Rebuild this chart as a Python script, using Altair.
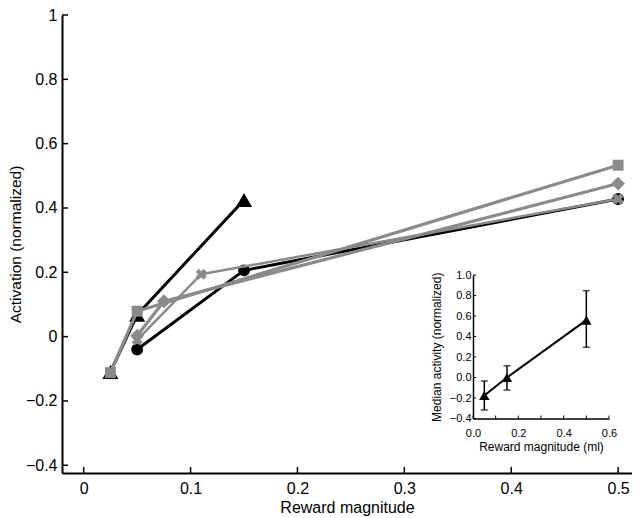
import altair as alt
import pandas as pd

# ---------------- main panel data ----------------
tri_x = [0.025, 0.05, 0.15]
tri_y = [-0.11, 0.068, 0.425]
circle_x = [0.05, 0.15, 0.5]
circle_y = [-0.04, 0.206, 0.428]
square_x = [0.025, 0.05, 0.5]
square_y = [-0.112, 0.079, 0.533]
diamond_x = [0.05, 0.075, 0.5]
diamond_y = [0.003, 0.11, 0.476]
xmark_x = [0.05, 0.11, 0.5]
xmark_y = [-0.01, 0.194, 0.428]

main_x_ticks = [0, 0.1, 0.2, 0.3, 0.4, 0.5]
main_y_ticks = [-0.4, -0.2, 0, 0.2, 0.4, 0.6, 0.8, 1]

# ---------------- inset data ----------------
inset_x = [0.05, 0.15, 0.5]
inset_median = [-0.175, 0.0, 0.56]
inset_low = [-0.317, -0.122, 0.295]
inset_high = [-0.034, 0.115, 0.847]
inset_x_ticks = [0, 0.1, 0.2, 0.3, 0.4, 0.5, 0.6]
inset_x_labels = [0, 0.2, 0.4, 0.6]
inset_y_ticks = [-0.4, -0.2, 0, 0.2, 0.4, 0.6, 0.8, 1.0]

BLACK = "#000000"
GRAY = "#8a8a8a"
FONT = "Liberation Sans"
TOP = 7
W, H = 570, 458

xs_main = alt.Scale(domain=[-0.0203, 0.513], nice=False, zero=False)
ys_main = alt.Scale(domain=[-0.424, 1.0], nice=False, zero=False)

common_axis = dict(grid=False, ticks=False, tickSize=0, domainColor=BLACK,
                   labelColor=BLACK, titleColor=BLACK, titleFontWeight="normal",
                   labelFont=FONT, titleFont=FONT, labelFlush=False,
                   labelOverlap=False)

x_axis_main = alt.Axis(values=main_x_ticks, format="~g", title="Reward magnitude",
                       labelPadding=7, titlePadding=3, labelFontSize=16,
                       titleFontSize=16, domainWidth=2, **common_axis)
y_axis_main = alt.Axis(values=main_y_ticks, format="~g", title="Activation (normalized)",
                       labelPadding=5, titlePadding=2, labelFontSize=16,
                       titleFontSize=15.5, domainWidth=2, **common_axis)


def series(xv, yv, color, shape, size, width, angle=0):
    df = pd.DataFrame({"x": xv, "y": yv})
    base = alt.Chart(df).encode(
        x=alt.X("x:Q", scale=xs_main, axis=x_axis_main),
        y=alt.Y("y:Q", scale=ys_main, axis=y_axis_main),
    )
    line = base.mark_line(color=color, strokeWidth=width, strokeJoin="round")
    pt = base.mark_point(shape=shape, filled=True, size=size, color=color,
                         opacity=1, angle=angle)
    return [line, pt]


layers = []
layers += series(tri_x, tri_y, BLACK, "triangle-up", 260, 3)
layers += series(circle_x, circle_y, BLACK, "circle", 140, 3)
layers += series(square_x, square_y, GRAY, "square", 120, 3.2)
layers += series(diamond_x, diamond_y, GRAY, "diamond", 190, 3.2)
layers += series(xmark_x, xmark_y, GRAY, "cross", 120, 2.5, angle=45)

ytick_main = alt.Chart(pd.DataFrame({"v": main_y_ticks})).mark_rule(
    color=BLACK, strokeWidth=1.5).encode(
    y=alt.Y("v:Q", scale=ys_main, axis=y_axis_main),
    x=alt.value(0), x2=alt.value(6))
xtick_main = alt.Chart(pd.DataFrame({"v": main_x_ticks})).mark_rule(
    color=BLACK, strokeWidth=1.5).encode(
    x=alt.X("v:Q", scale=xs_main, axis=x_axis_main),
    y=alt.value(H), y2=alt.value(H - 6))

main = alt.layer(*layers, ytick_main, xtick_main)

# ---------------- inset ----------------
IN_X0, IN_X1 = 411, 547
IN_YB, IN_YT = 418.5 - 8 - TOP, 275 - 8 - TOP
xs_in = alt.Scale(domain=[0, 0.6], range=[IN_X0, IN_X1], nice=False, zero=False)
ys_in = alt.Scale(domain=[-0.4, 1.0], range=[IN_YB, IN_YT], nice=False, zero=False)

x_axis_in = alt.Axis(values=inset_x_labels, format=".1f", title="Reward magnitude (ml)",
                     orient="bottom", offset=-(H - IN_YB), labelPadding=9,
                     titlePadding=3, labelFontSize=11, titleFontSize=12,
                     domainWidth=1.5, **common_axis)
y_axis_in = alt.Axis(values=inset_y_ticks, format=".1f", title="Median activity (normalized)",
                     orient="left", offset=-IN_X0, labelPadding=2,
                     titlePadding=6, labelFontSize=11, titleFontSize=12,
                     domainWidth=1.5, **common_axis)

df_in = pd.DataFrame({"x": inset_x, "m": inset_median, "lo": inset_low, "hi": inset_high})
base_in = alt.Chart(df_in).encode(x=alt.X("x:Q", scale=xs_in, axis=x_axis_in))

in_err = base_in.mark_rule(color=BLACK, strokeWidth=1.5).encode(
    y=alt.Y("lo:Q", scale=ys_in, axis=y_axis_in), y2="hi:Q")
in_cap_lo = base_in.mark_tick(color=BLACK, orient="horizontal", size=7, thickness=1.5).encode(
    y=alt.Y("lo:Q", scale=ys_in, axis=y_axis_in))
in_cap_hi = base_in.mark_tick(color=BLACK, orient="horizontal", size=7, thickness=1.5).encode(
    y=alt.Y("hi:Q", scale=ys_in, axis=y_axis_in))
in_line = base_in.mark_line(color=BLACK, strokeWidth=2).encode(
    y=alt.Y("m:Q", scale=ys_in, axis=y_axis_in))
in_pts = base_in.mark_point(shape="triangle-up", filled=True, size=110, color=BLACK,
                            opacity=1).encode(y=alt.Y("m:Q", scale=ys_in, axis=y_axis_in))

in_xt = alt.Chart(pd.DataFrame({"v": inset_x_ticks})).mark_rule(
    color=BLACK, strokeWidth=1).encode(
    x=alt.X("v:Q", scale=xs_in, axis=x_axis_in),
    y=alt.value(IN_YB), y2=alt.value(IN_YB - 3))
in_yt = alt.Chart(pd.DataFrame({"v": inset_y_ticks})).mark_rule(
    color=BLACK, strokeWidth=1).encode(
    y=alt.Y("v:Q", scale=ys_in, axis=y_axis_in),
    x=alt.value(IN_X0), x2=alt.value(IN_X0 + 3))

inset = alt.layer(in_err, in_cap_lo, in_cap_hi, in_line, in_pts, in_xt, in_yt)

chart = alt.layer(main, inset).resolve_scale(
    x="independent", y="independent"
).properties(
    width=W, height=H,
    autosize=alt.AutoSizeParams(type="none"),
    padding={"left": 54, "top": TOP, "right": 0, "bottom": 45},
).configure_view(stroke=None)

chart.save("out.html", embed_options={"renderer": "svg", "actions": False})
